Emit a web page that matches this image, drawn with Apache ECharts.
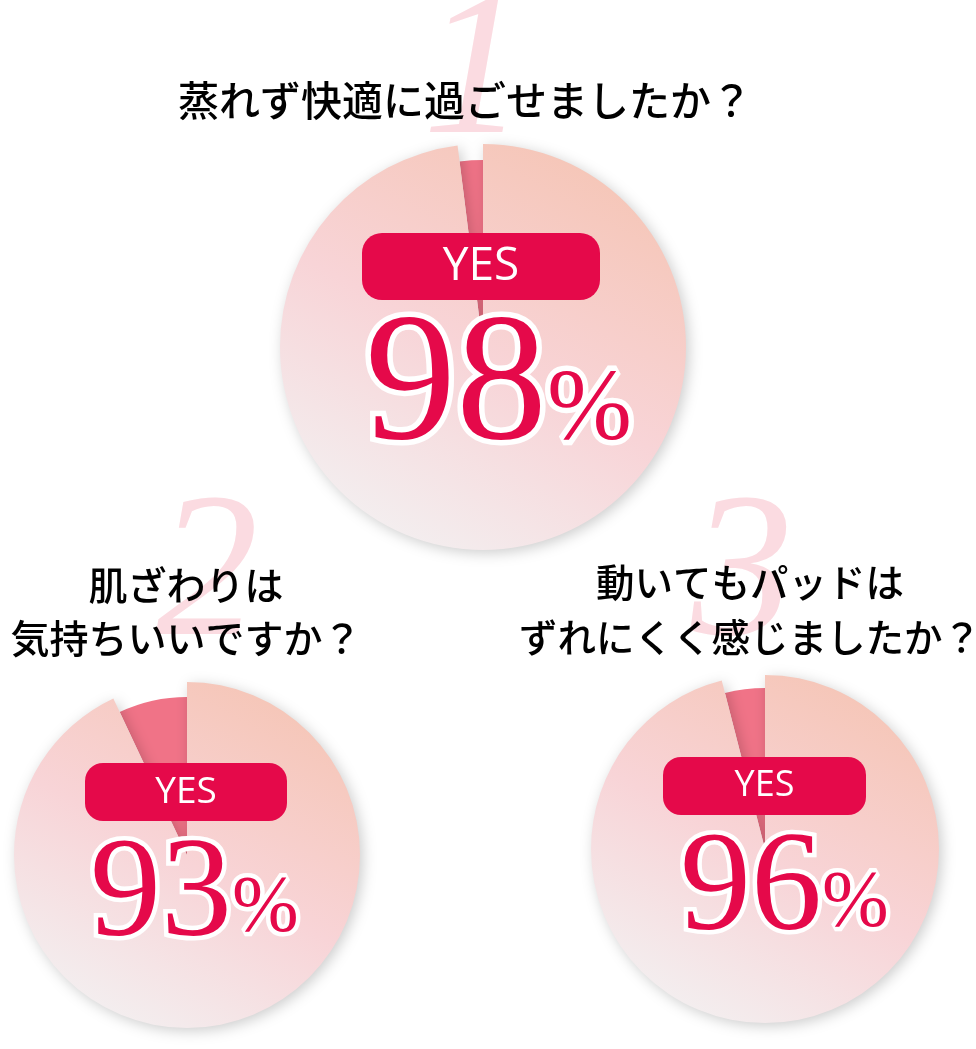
<!DOCTYPE html>
<html><head><meta charset="utf-8">
<script src="https://cdn.jsdelivr.net/npm/echarts@6/dist/echarts.min.js"></script>
<style>html,body{margin:0;padding:0;background:#fff}#c{width:976px;height:1049px}</style>
</head><body><div id="c"></div>
<script>
// ---- data ----
const questions = [
  ['蒸れず快適に過ごせましたか？'],
  ['肌ざわりは', '気持ちいいですか？'],
  ['動いてもパッドは', 'ずれにくく感じましたか？']
];
const yesValues = [98, 93, 96];
const noValues = [2, 7, 4];
const badgeLabel = 'YES';
const questionNumbers = ['1', '2', '3'];

// ---- layout / style ----
const layouts = [
  {cx:483, cy:347, r:203, rNo:187, badge:[362,233,238,67,20], yesFont:46, yesY:267,
   junction:547, numFont:182, numY:390, pctFont:102, pctY:412, stroke:11,
   titleX:465, titleY:[100], titleFont:41, mark:[474,78]},
  {cx:187, cy:855, r:173, rNo:158, badge:[85,763,202,58,18], yesFont:37, yesY:792,
   junction:232, numFont:142, numY:898, pctFont:80, pctY:910, stroke:9,
   titleX:186, titleY:[585,638], titleFont:39, mark:[207,580]},
  {cx:765, cy:849, r:174, rNo:161, badge:[663,757,203,58,18], yesFont:36, yesY:786,
   junction:822, numFont:142, numY:892, pctFont:80, pctY:905, stroke:9,
   titleX:750, titleY:[582,637], titleFont:38.5, mark:[742,580]}
];
const RED = '#e5094a';
const PINK = '#f07387';
const yesGradient = () => ({
  type:'linear', x:0.85, y:0, x2:0.3, y2:1,
  colorStops:[
    {offset:0, color:'#f5c4b3'},
    {offset:0.55, color:'#f8d4d7'},
    {offset:1, color:'#f3eff0'}
  ]
});
const serif = '"Liberation Serif", "DejaVu Serif", serif';
const sans = '"Open Sans", "Noto Sans", sans-serif';
const cjk = '"Noto Sans CJK JP", sans-serif';

const series = [];
const graphic = [];
yesValues.forEach((yes, i) => {
  const L = layouts[i];
  const no = noValues[i];
  const common = {type:'pie', center:[L.cx, L.cy], startAngle:90, clockwise:true, silent:true,
    label:{show:false}, labelLine:{show:false}, emphasis:{disabled:true}, animation:false};
  series.push(Object.assign({}, common, {
    name:'no'+i, radius:[0, L.rNo], z:2,
    data:[
      {name:'YES', value:yes, itemStyle:{color:'rgba(0,0,0,0)'}},
      {name:'NO', value:no, itemStyle:{color:PINK}}
    ]
  }));
  series.push(Object.assign({}, common, {
    name:'yes'+i, radius:[0, L.r], z:3,
    data:[
      {name:'YES', value:yes, itemStyle:{color:yesGradient(), shadowBlur:14, shadowColor:'rgba(0,0,0,0.2)', shadowOffsetX:3, shadowOffsetY:3}},
      {name:'NO', value:no, itemStyle:{color:'rgba(0,0,0,0)'}}
    ]
  }));
  // decorative question number
  graphic.push({type:'text', z:1, x:L.mark[0], y:L.mark[1], silent:true,
    style:{text:questionNumbers[i], fill:'#fbdbe1', font:'italic 205px '+serif, align:'center', verticalAlign:'middle'}});
  // title
  questions[i].forEach((line, k) => {
    graphic.push({type:'text', z:2, x:L.titleX, y:L.titleY[k], silent:true,
      style:{text:line, fill:'#000', font:'500 '+L.titleFont+'px '+cjk, align:'center', verticalAlign:'middle'}});
  });
  // badge
  const b = L.badge;
  graphic.push({type:'rect', z:10, silent:true, shape:{x:b[0], y:b[1], width:b[2], height:b[3], r:b[4]}, style:{fill:RED}});
  graphic.push({type:'text', z:11, x:b[0]+b[2]/2, y:L.yesY, silent:true,
    style:{text:badgeLabel, fill:'#fff', font:'normal '+L.yesFont+'px '+sans, align:'center', verticalAlign:'middle'}});
  // percent numbers: white outline layer then fill layer
  [['#fff', L.stroke], [null, 0]].forEach(([stroke, lw], layer) => {
    const st = stroke ? {stroke:'#fff', lineWidth:lw, fill:'#fff', lineJoin:'round'} : {fill:RED};
    graphic.push({type:'text', z:12+layer, x:L.junction, y:L.numY, silent:true,
      style:Object.assign({text:String(yes), font:'normal '+L.numFont+'px '+serif, align:'right', verticalAlign:'middle'}, st)});
    graphic.push({type:'text', z:12+layer, x:L.junction, y:L.pctY, silent:true,
      style:Object.assign({text:'%', font:'normal '+L.pctFont+'px '+serif, align:'left', verticalAlign:'middle'}, st)});
  });
});

const chart = echarts.init(document.getElementById('c'), null, {renderer:'canvas'});
chart.setOption({backgroundColor:'#fff', animation:false, series, graphic});
</script>
</body></html>
